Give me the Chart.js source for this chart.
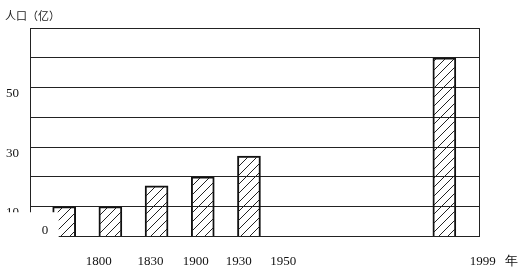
<!DOCTYPE html>
<html>
<head>
<meta charset="utf-8">
<script src="https://cdn.jsdelivr.net/npm/chart.js@4.4.1/dist/chart.umd.min.js"></script>
<style>
    html, body { margin: 0; padding: 0; background: #fff; }
    #wrap { width: 523px; height: 274px; }
</style>
</head>
<body>
<div id="wrap"><canvas id="popChart"></canvas></div>
<script>
// datos del gráfico
const barNames = ['', '1800', '1830', '1900', '1930', '1999'];
const barSlots = [0, 1, 2, 3, 4, 8.23];
const population = [10, 10, 17, 20, 27, 60];
const tickLabels = ['1800', '1830', '1900', '1930', '1950', '1999', '年'];
const tickSlots = [0.75, 1.87, 2.85, 3.78, 4.74, 9.06, 9.69];
const yLabels = [10, 30, 50];

const serif = '"Liberation Serif", "Times New Roman", serif';

// patrón de rayas diagonales para las barras
function makeHatch() {
    const c = document.createElement('canvas');
    c.width = 9;
    c.height = 9;
    const g = c.getContext('2d');
    g.strokeStyle = '#222';
    g.lineWidth = 1;
    g.beginPath();
    g.moveTo(0, 9); g.lineTo(9, 0);
    g.moveTo(-1, 1); g.lineTo(1, -1);
    g.moveTo(8, 10); g.lineTo(10, 8);
    g.stroke();
    return g.createPattern(c, 'repeat');
}

// etiqueta "0" del origen, tapando la esquina como en el original
const originLabel = {
    id: 'originLabel',
    afterDraw(chart) {
        const { ctx, scales: { y } } = chart;
        const bar0 = chart.getDatasetMeta(0).data[0];
        const left = bar0.x - bar0.width / 2;
        const top = y.getPixelForValue(10) + 5.5;
        ctx.save();
        ctx.fillStyle = '#fff';
        ctx.fillRect(0, top, left + 6, y.getPixelForValue(0) - y.getPixelForValue(10));
        ctx.fillStyle = '#111';
        ctx.font = '13px ' + serif;
        ctx.textAlign = 'center';
        ctx.textBaseline = 'middle';
        ctx.fillText('0', chart.chartArea.left + 15, y.getPixelForValue(0) - 6);
        ctx.restore();
    }
};

const ctx = document.getElementById('popChart').getContext('2d');

new Chart(ctx, {
    type: 'bar',
    data: {
        labels: barNames,
        datasets: [{
            data: barSlots.map((x, i) => ({ x: x, y: population[i] })),
            backgroundColor: makeHatch(),
            borderColor: '#111',
            borderWidth: 1.3,
            barThickness: 23
        }]
    },
    options: {
        responsive: true,
        maintainAspectRatio: false,
        animation: false,
        layout: { padding: { left: 5, right: 44, top: 0, bottom: 0 } },
        plugins: {
            legend: { display: false },
            tooltip: { enabled: false },
            title: {
                display: true,
                text: '人口（亿）',
                align: 'start',
                color: '#222',
                font: { family: '"Noto Sans CJK SC", sans-serif', size: 11, weight: 'normal' },
                padding: { top: 9, bottom: 6 }
            }
        },
        scales: {
            x: {
                type: 'linear',
                min: -0.74,
                max: 8.98,
                offset: false,
                bounds: 'data',
                grid: { display: false },
                border: { display: true, color: '#222', width: 1 },
                afterBuildTicks: function (scale) {
                    scale.ticks = tickSlots.map(v => ({ value: v }));
                },
                ticks: {
                    autoSkip: false,
                    maxRotation: 0,
                    padding: 9,
                    color: '#111',
                    font: { family: serif, size: 13 },
                    callback: function (value, index) {
                        return tickLabels[index];
                    }
                },
                afterFit: function (scale) {
                    scale.height = 37.5;
                    scale.paddingLeft = 0;
                    scale.paddingRight = 0;
                }
            },
            y: {
                min: 0,
                max: 70,
                grid: { color: '#222', drawTicks: false },
                border: { display: true, color: '#222', width: 1 },
                ticks: {
                    stepSize: 10,
                    padding: 11,
                    labelOffset: 6,
                    color: '#111',
                    font: { family: serif, size: 13 },
                    callback: v => yLabels.includes(v) ? String(v) : ''
                },
                afterFit: function (scale) {
                    scale.width = 25;
                    scale.paddingTop = 0;
                    scale.paddingBottom = 0;
                }
            },
            y2: {
                position: 'right',
                min: 0,
                max: 70,
                grid: { display: false },
                ticks: { display: false },
                border: { display: true, color: '#222', width: 1 },
                afterFit: function (scale) {
                    scale.width = 0;
                }
            }
        }
    },
    plugins: [originLabel]
});
</script>
</body>
</html>
